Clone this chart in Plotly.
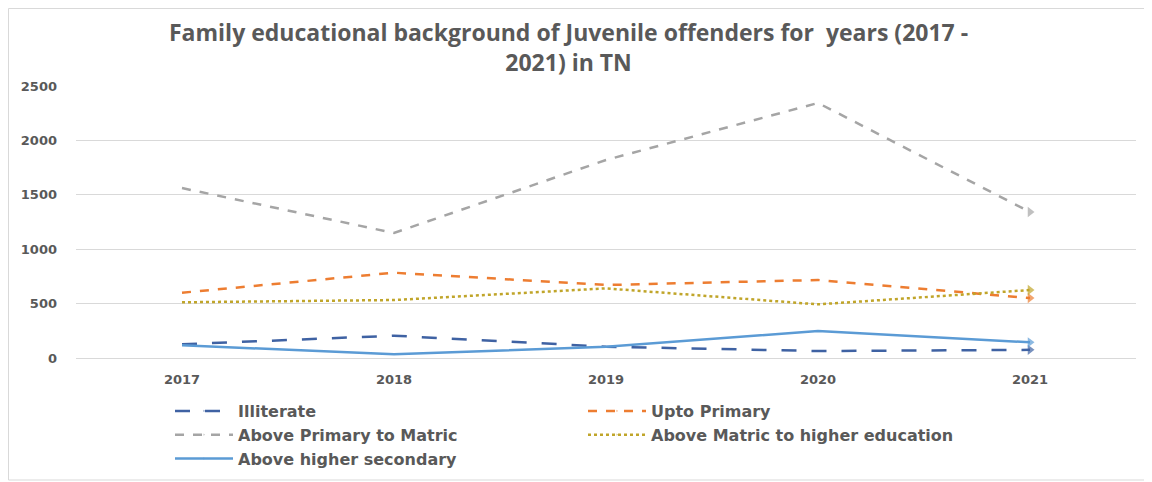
import plotly.graph_objects as go

years = ["2017", "2018", "2019", "2020", "2021"]
illiterate = [126, 205, 104, 64, 75]
upto_primary = [600, 784, 671, 717, 551]
above_primary_matric = [1562, 1149, 1820, 2344, 1342]
above_matric_higher = [512, 533, 640, 493, 625]
above_higher_secondary = [117, 34, 104, 248, 144]

series = [
    ("Illiterate", illiterate, "#3F62A3", "longdash"),
    ("Upto Primary", upto_primary, "#ED7D31", "dash"),
    ("Above Primary to Matric", above_primary_matric, "#A5A5A5", "dash"),
    ("Above Matric to higher education", above_matric_higher, "#C0A52A", "dot"),
    ("Above higher secondary", above_higher_secondary, "#5B9BD5", "solid"),
]

fig = go.Figure()
for name, vals, color, dash in series:
    sizes = [0] * (len(vals) - 1) + [9]
    fig.add_trace(go.Scatter(
        x=years, y=vals, name=name, mode="lines+markers",
        line=dict(color=color, width=2.5, dash=dash),
        marker=dict(symbol="triangle-right", size=sizes, color=color, line=dict(width=0)),
    ))

# page has an 8px body margin, so figure coords = page coords - 8
W, H = 1144, 474
L, R, T, B = 68, 16, 78, 124
pw, ph = W - L - R, H - T - B

def px_x(p):
    return (p - L) / pw

def px_y(p):
    return (H - B - p) / ph

BOLD = "DejaVu Sans, Open Sans, sans-serif"

fig.update_layout(
    width=W, height=H,
    margin=dict(l=L, r=R, t=T, b=B, autoexpand=False),
    paper_bgcolor="white", plot_bgcolor="white",
    font=dict(family=BOLD, color="#595959"),
    title=dict(
        text="<b>Family educational background of Juvenile offenders for  years (2017 -<br>2021) in TN</b>",
        x=0.49, xanchor="center", y=1 - 33 / H, yanchor="top",
        font=dict(size=23, color="#595959", family="Open Sans, sans-serif"),
    ),
    showlegend=True,
    legend=dict(
        orientation="h", x=px_x(162), xanchor="left",
        yref="container", y=1 - 386 / H, yanchor="top",
        entrywidth=340, entrywidthmode="pixels",
        font=dict(size=16, color="#595959", family=BOLD, weight="bold"),
        itemwidth=58, bgcolor="rgba(0,0,0,0)",
    ),
    xaxis=dict(
        type="category", range=[-0.5, 4.5], showgrid=False,
        showline=True, linecolor="#D9D9D9", linewidth=1,
        ticks="", tickfont=dict(size=13, color="#595959", family=BOLD, weight="bold"),
        ticklabelstandoff=9, fixedrange=True,
    ),
    yaxis=dict(
        range=[0, 2500], dtick=500, showgrid=True, gridcolor="#D9D9D9", gridwidth=1,
        zeroline=False, showline=False, ticks="",
        tickfont=dict(size=13, color="#595959", family=BOLD, weight="bold"),
        ticklabelstandoff=18, fixedrange=True,
    ),
    shapes=[dict(
        type="rect", xref="paper", yref="paper",
        x0=px_x(0.5), x1=px_x(1140), y0=px_y(472), y1=px_y(0.5),
        line=dict(color="#D9D9D9", width=1), fillcolor="rgba(0,0,0,0)", layer="below",
    )],
)

fig.write_html("out.html")
